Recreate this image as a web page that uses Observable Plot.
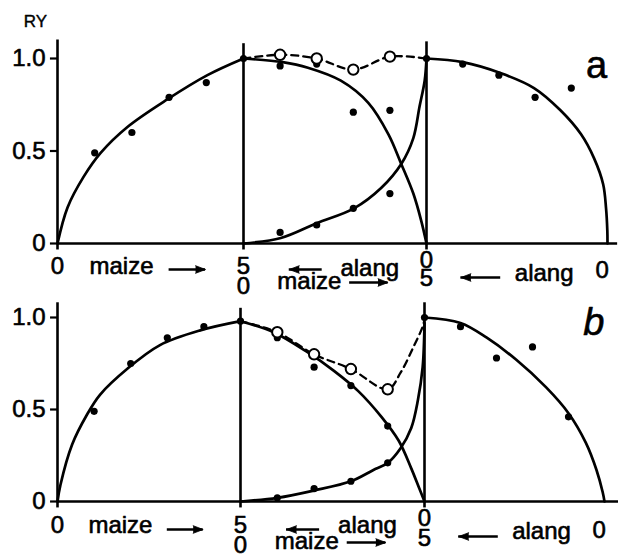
<!DOCTYPE html>
<html>
<head>
<meta charset="utf-8">
<script src="https://cdn.jsdelivr.net/npm/d3@7"></script>
<script src="https://cdn.jsdelivr.net/npm/@observablehq/plot@0.6"></script>
<style>
  body { margin: 0; background: #fff; }
  #chart svg { display: block; }
</style>
</head>
<body>
<div id="chart"></div>
<script>
// Relative yield (RY) of maize and alang-alang.
// Position along the combined x axis:
//   0–5   maize alone, density 0 → 5
//   5–10  replacement mixtures (maize 5 → 0, alang 0 → 5)
//   10–15 alang alone, density 5 → 0

const yTicks = [0, 0.5, 1.0];
const yTickLabels = ["0", "0.5", "1.0"];
const axisWords = ["maize", "alang"];

// ---- panel a ----
const aMaizeAloneX = [1, 2, 3, 4, 5];
const aMaizeAloneY = [0.49, 0.60, 0.79, 0.87, 1.0];
const aMaizeAloneFitX = [0, 0.27, 0.70, 1.16, 1.88, 2.96, 4.03, 5];
const aMaizeAloneFitY = [0, 0.195, 0.36, 0.49, 0.63, 0.78, 0.91, 1.0];

const aMaizeMixX = [6, 7, 8, 9];
const aMaizeMixY = [0.96, 0.97, 0.71, 0.72];
const aMaizeMixFitX = [5, 6.07, 6.76, 7.66, 8.41, 8.96, 9.31, 9.64, 9.86, 10];
const aMaizeMixFitY = [1.0, 0.98, 0.95, 0.88, 0.76, 0.59, 0.43, 0.27, 0.12, 0];

const aAlangMixX = [6, 7, 8, 9, 10];
const aAlangMixY = [0.06, 0.10, 0.19, 0.27, 1.0];
const aAlangMixFitX = [5, 6.02, 7.0, 8.02, 8.76, 9.31, 9.64, 9.81, 9.95, 10];
const aAlangMixFitY = [0, 0.03, 0.11, 0.19, 0.30, 0.43, 0.57, 0.74, 0.88, 1.0];

const aTotalX = [6, 7, 8, 9];
const aTotalY = [1.02, 1.0, 0.94, 1.01];
const aTotalLineX = [5, 6, 7, 8, 9, 10];
const aTotalLineY = [1.0, 1.02, 1.0, 0.94, 1.01, 1.0];

const aAlangAloneX = [11, 12, 13, 14];
const aAlangAloneY = [0.97, 0.91, 0.79, 0.84];
const aAlangAloneFitX = [10, 11, 12.06, 12.97, 13.7, 14.27, 14.63, 14.88, 14.96, 14.995, 15];
const aAlangAloneFitY = [1.0, 0.98, 0.92, 0.84, 0.72, 0.59, 0.46, 0.32, 0.19, 0.07, 0];

// ---- panel b ----
const bMaizeAloneX = [1, 2, 3, 4, 5];
const bMaizeAloneY = [0.49, 0.75, 0.89, 0.95, 0.98];
const bMaizeAloneFitX = [0, 0.08, 0.4, 0.8, 1.16, 1.9, 2.8, 3.9, 5];
const bMaizeAloneFitY = [0, 0.09, 0.31, 0.47, 0.58, 0.72, 0.85, 0.93, 0.98];

const bMaizeMixX = [6, 7, 8, 9];
const bMaizeMixY = [0.89, 0.73, 0.63, 0.41];
const bMaizeMixFitX = [5, 5.9, 6.83, 7.54, 8.2, 8.83, 9.3, 9.64, 9.86, 10];
const bMaizeMixFitY = [0.98, 0.92, 0.81, 0.71, 0.60, 0.46, 0.33, 0.18, 0.07, 0];

const bAlangMixX = [6, 7, 8, 9, 10];
const bAlangMixY = [0.02, 0.07, 0.11, 0.21, 1.0];
const bAlangMixFitX = [5, 6, 7, 8, 8.6, 9, 9.35, 9.64, 9.82, 9.95, 10];
const bAlangMixFitY = [0, 0.02, 0.06, 0.11, 0.17, 0.21, 0.29, 0.40, 0.55, 0.73, 0.97];

const bTotalX = [6, 7, 8, 9];
const bTotalY = [0.92, 0.80, 0.72, 0.61];
const bTotalLineX = [5, 6, 7, 8, 9, 9.35, 9.7, 9.95, 10];
const bTotalLineY = [0.98, 0.92, 0.80, 0.72, 0.61, 0.70, 0.84, 0.95, 0.99];

const bAlangAloneX = [11, 12, 13, 14];
const bAlangAloneY = [0.95, 0.78, 0.84, 0.46];
const bAlangAloneFitX = [10, 11, 11.73, 12.55, 13.38, 14.0, 14.48, 14.78, 14.95, 15];
const bAlangAloneFitY = [1.0, 0.97, 0.89, 0.77, 0.62, 0.48, 0.32, 0.17, 0.05, 0];

const FONT = "'Liberation Sans', Arial, sans-serif";
const pts = (xs, ys) => xs.map((x, i) => ({x, y: ys[i]}));

function panel(s) {
  const solid = (xs, ys) => Plot.line(pts(xs, ys), {
    x: "x", y: "y", curve: "catmull-rom", stroke: "black", strokeWidth: 2.7
  });
  const filled = (xs, ys) => Plot.dot(pts(xs, ys), {
    x: "x", y: "y", r: 3.6, fill: "black", stroke: "none"
  });
  const ink = {fill: "black", stroke: "black", strokeWidth: 0.6};
  const word = (x, text, dy, size = 24) => Plot.text([text], {
    x, y: 0, text: d => d, dy, lineAnchor: "bottom", fontSize: size, ...ink
  });
  // arrow beneath the axis: a shaft plus a solid triangular head at x2
  const arrow = (x1, x2, dy) => [
    Plot.ruleY([0], {x1, x2, dy, stroke: "black", strokeWidth: 2.4}),
    Plot.vector([0], {
      x: x2, y: 0, dy, rotate: x2 > x1 ? 90 : -90, length: 10, r: 3.8,
      shape: "spike", anchor: "end", fill: "black", stroke: "black", strokeWidth: 0.8
    })
  ];
  const L = s.labels;
  return Plot.plot({
    width: 618,
    height: s.height,
    margin: 0,
    x: {type: "linear", domain: [0, 5, 10, 15], range: s.xRange, axis: null},
    y: {type: "linear", domain: [0, 1], range: s.yRange, axis: null},
    length: {type: "identity"},
    style: {fontFamily: FONT, background: "white", color: "black", overflow: "visible"},
    marks: [
      // frame: baseline, left axis and the two section dividers
      Plot.ruleY([0], {x1: 0, x2: s.axisEnd, stroke: "black", strokeWidth: 2.6}),
      Plot.ruleX([0, 5, 10], {y1: -0.035, y2: s.dividerTops, stroke: "black", strokeWidth: 2.6}),

      // RY ticks and labels on the left axis
      Plot.ruleY(yTicks, {x1: -0.19, x2: 0, stroke: "black", strokeWidth: 2.2}),
      Plot.text(yTicks, {
        x: 0, y: d => d, text: d => yTickLabels[yTicks.indexOf(d)],
        textAnchor: "end", dx: -12, fontSize: 24, ...ink
      }),

      // fitted curves
      solid(s.maizeAloneFit[0], s.maizeAloneFit[1]),
      solid(s.maizeMixFit[0], s.maizeMixFit[1]),
      solid(s.alangMixFit[0], s.alangMixFit[1]),
      solid(s.alangAloneFit[0], s.alangAloneFit[1]),
      Plot.line(pts(s.totalLine[0], s.totalLine[1]), {
        x: "x", y: "y", curve: "catmull-rom", stroke: "black",
        strokeWidth: 2.3, strokeDasharray: "7,5"
      }),

      // observations
      filled(s.maizeAlone[0], s.maizeAlone[1]),
      filled(s.maizeMix[0], s.maizeMix[1]),
      filled(s.alangMix[0], s.alangMix[1]),
      filled(s.alangAlone[0], s.alangAlone[1]),
      Plot.dot(pts(s.total[0], s.total[1]), {
        x: "x", y: "y", r: 5.2, fill: "white", stroke: "black", strokeWidth: 2
      }),

      // density scale beneath the axis
      word(0, "0", L.r1), word(1.72, axisWords[0], L.r1), word(5, "5", L.r1),
      word(8.45, axisWords[1], L.r1a), word(10, "0", L.r1z),
      arrow(3.0, 3.98, L.r1arrow), arrow(7.15, 6.25, L.r1arrow),
      word(5, "0", L.r2), word(6.8, axisWords[0], L.r2m), word(10, "5", L.r2five),
      word(13.25, axisWords[1], L.r2a), word(14.85, "0", L.r2z),
      arrow(7.9, 8.95, L.r2arrow), arrow(12.05, 10.95, L.r2arrowL),

      // axis title (top panel only) and panel letter
      s.title ? Plot.text([s.title], {x: 0, y: 1.2, text: d => d, dx: -22, fontSize: 17, ...ink, strokeWidth: 0.4}) : null,
      Plot.text([s.tag], {
        x: 14.7, y: s.tagY, text: d => d, fontSize: 38, ...ink,
        fontStyle: s.tagItalic ? "italic" : "normal"
      })
    ]
  });
}

const panelA = panel({
  height: 296,
  xRange: [57, 243, 426, 607],
  yRange: [243, 58],
  axisEnd: 15.28,
  dividerTops: [1.1, 1.08, 1.09],
  maizeAlone: [aMaizeAloneX, aMaizeAloneY], maizeAloneFit: [aMaizeAloneFitX, aMaizeAloneFitY],
  maizeMix: [aMaizeMixX, aMaizeMixY], maizeMixFit: [aMaizeMixFitX, aMaizeMixFitY],
  alangMix: [aAlangMixX, aAlangMixY], alangMixFit: [aAlangMixFitX, aAlangMixFitY],
  total: [aTotalX, aTotalY], totalLine: [aTotalLineX, aTotalLineY],
  alangAlone: [aAlangAloneX, aAlangAloneY], alangAloneFit: [aAlangAloneFitX, aAlangAloneFitY],
  title: "RY",
  tag: "a", tagY: 0.96, tagItalic: false,
  labels: {r1: 30, r1a: 32, r1z: 24, r1arrow: 26, r2: 50, r2m: 45, r2five: 42, r2a: 37, r2z: 34, r2arrow: 39, r2arrowL: 34}
});

const panelB = panel({
  height: 261,
  xRange: [57, 240, 424, 604],
  yRange: [205, 21],
  axisEnd: 15.39,
  dividerTops: [1.08, 1.05, 1.08],
  maizeAlone: [bMaizeAloneX, bMaizeAloneY], maizeAloneFit: [bMaizeAloneFitX, bMaizeAloneFitY],
  maizeMix: [bMaizeMixX, bMaizeMixY], maizeMixFit: [bMaizeMixFitX, bMaizeMixFitY],
  alangMix: [bAlangMixX, bAlangMixY], alangMixFit: [bAlangMixFitX, bAlangMixFitY],
  total: [bTotalX, bTotalY], totalLine: [bTotalLineX, bTotalLineY],
  alangAlone: [bAlangAloneX, bAlangAloneY], alangAloneFit: [bAlangAloneFitX, bAlangAloneFitY],
  title: null,
  tag: "b", tagY: 0.97, tagItalic: true,
  labels: {r1: 31, r1a: 31, r1z: 24, r1arrow: 28, r2: 51, r2m: 47, r2five: 44, r2a: 37, r2z: 36, r2arrow: 41, r2arrowL: 35}
});

const chart = document.getElementById("chart");
chart.append(panelA, panelB);
</script>
</body>
</html>
